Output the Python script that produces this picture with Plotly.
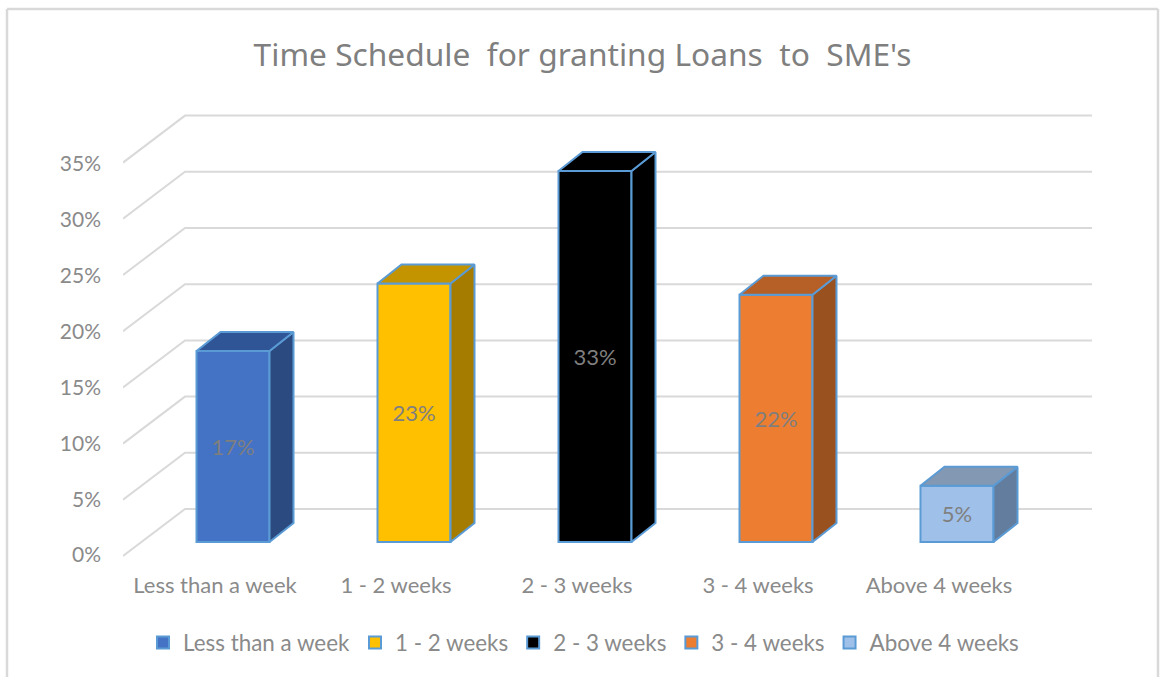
import plotly.graph_objects as go

categories = ["Less than a week", "1 - 2 weeks", "2 - 3 weeks", "3 - 4 weeks", "Above 4 weeks"]
values = [17, 23, 33, 22, 5]
front_colors = ["#4472c4", "#ffc000", "#000000", "#ed7d31", "#9fc0e8"]
side_colors = ["#2b4a80", "#a67c00", "#000000", "#9a5120", "#637d9f"]
top_colors = ["#2f5597", "#c49300", "#000000", "#b65f26", "#8298b3"]
tick_values = [0, 5, 10, 15, 20, 25, 30, 35]
edge = "#5b9bd5"
W, H = 1160, 677
GRAY = "#7f7f7f"
TXT = "#8a8a8a"

# pixel geometry of plot frame
px_left, px_right, px_top, px_bottom = 123, 1092, 100, 570
px_step, px_first = 181, 233
px_per_unit = 11.24
bar_px = 73
depth_x, depth_y = 24 / px_step, 19 / px_per_unit

x_range = [(px_left - px_first) / px_step, (px_right - px_first) / px_step]
def yrange(zero_px, per_unit):
    return [(zero_px - px_bottom) / per_unit, (zero_px - px_top) / per_unit]

xL = x_range[0]
xB = (185 - px_first) / px_step
xR = x_range[1]
wall_dy = 47 / px_per_unit

fig = go.Figure()

# back wall + slanted side gridlines
for t in tick_values:
    fig.add_trace(go.Scatter(x=[xL, xB, xR], y=[t, t + wall_dy, t + wall_dy], mode="lines",
                             line=dict(color="#d9d9d9", width=2), showlegend=False,
                             hoverinfo="skip", xaxis="x", yaxis="y"))

half = bar_px / px_step / 2
for i, (c, v) in enumerate(zip(categories, values)):
    fig.add_trace(go.Bar(x=[i], y=[v], name=c, width=bar_px / px_step, text=[f"{v}%"],
                         textposition="inside", insidetextanchor="middle", constraintext="none",
                         textangle=0, textfont=dict(family="Lato", size=22, color=GRAY),
                         marker=dict(color=front_colors[i], line=dict(color=edge, width=2)),
                         xaxis="x", yaxis="y2", hoverinfo="skip"))
    # side face
    fig.add_trace(go.Scatter(x=[i + half, i + half + depth_x, i + half + depth_x, i + half, i + half],
                             y=[0, depth_y, v + depth_y, v, 0], mode="lines", fill="toself",
                             fillcolor=side_colors[i], line=dict(color=edge, width=2),
                             showlegend=False, hoverinfo="skip", xaxis="x", yaxis="y2"))
    # top face
    fig.add_trace(go.Scatter(x=[i - half, i - half + depth_x, i + half + depth_x, i + half, i - half],
                             y=[v, v + depth_y, v + depth_y, v, v], mode="lines", fill="toself",
                             fillcolor=top_colors[i], line=dict(color=edge, width=2),
                             showlegend=False, hoverinfo="skip", xaxis="x", yaxis="y2"))

# carrier of the value axis labels
fig.add_trace(go.Scatter(x=[xL] * len(tick_values), y=tick_values, mode="markers",
                         marker=dict(opacity=0), showlegend=False, hoverinfo="skip",
                         xaxis="x", yaxis="y3"))

dom_y = [1 - px_bottom / H, 1 - px_top / H]
fig.update_layout(
    width=W, height=H, margin=dict(l=0, r=0, t=0, b=0, autoexpand=False),
    paper_bgcolor="white", plot_bgcolor="rgba(0,0,0,0)",
    barmode="overlay",
    font=dict(family="Lato", size=20, color=TXT),
    title=dict(text="Time Schedule  for granting Loans  to  SME's", x=582.5 / W, xanchor="center",
               y=1 - 55 / H, yanchor="middle",
               font=dict(family="Noto Sans", size=31.7, color=GRAY)),
    xaxis=dict(domain=[px_left / W, px_right / W], range=x_range, tickmode="array",
               tickvals=list(range(len(categories))), ticktext=categories, showgrid=False,
               zeroline=False, showline=False, ticks="", ticklabelshift=-18,
               tickfont=dict(family="Lato", size=22, color=TXT)),
    yaxis=dict(domain=dom_y, range=yrange(556, px_per_unit), showgrid=False, zeroline=False,
               showticklabels=False, ticks=""),
    yaxis2=dict(domain=dom_y, overlaying="y", range=yrange(542, px_per_unit), showgrid=False,
                zeroline=False, showticklabels=False, ticks=""),
    yaxis3=dict(domain=dom_y, overlaying="y", range=yrange(555, 11.17), showgrid=False, zeroline=False,
                tickmode="array", tickvals=tick_values, ticktext=[f"{t}%" for t in tick_values],
                ticks="", ticklabelstandoff=21, tickfont=dict(family="Lato", size=21, color=TXT)),
    legend=dict(orientation="h", x=143 / W, xanchor="left", y=1 - 643 / H, yanchor="middle",
                font=dict(family="Lato", size=22.4, color=TXT), bgcolor="rgba(0,0,0,0)"),
    shapes=[
        dict(type="line", xref="paper", yref="paper", x0=7 / W, x1=7 / W, y0=0, y1=1 - 9 / H,
             line=dict(color="#d9d9d9", width=2.5)),
        dict(type="line", xref="paper", yref="paper", x0=7 / W, x1=1158 / W, y0=1 - 9 / H, y1=1 - 9 / H,
             line=dict(color="#d9d9d9", width=2.5)),
        dict(type="line", xref="paper", yref="paper", x0=1158 / W, x1=1158 / W, y0=0, y1=1 - 9 / H,
             line=dict(color="#d9d9d9", width=2.5)),
    ],
)
fig.write_html("out.html", config={"displayModeBar": False},
               post_script="document.body.style.margin='0';")
